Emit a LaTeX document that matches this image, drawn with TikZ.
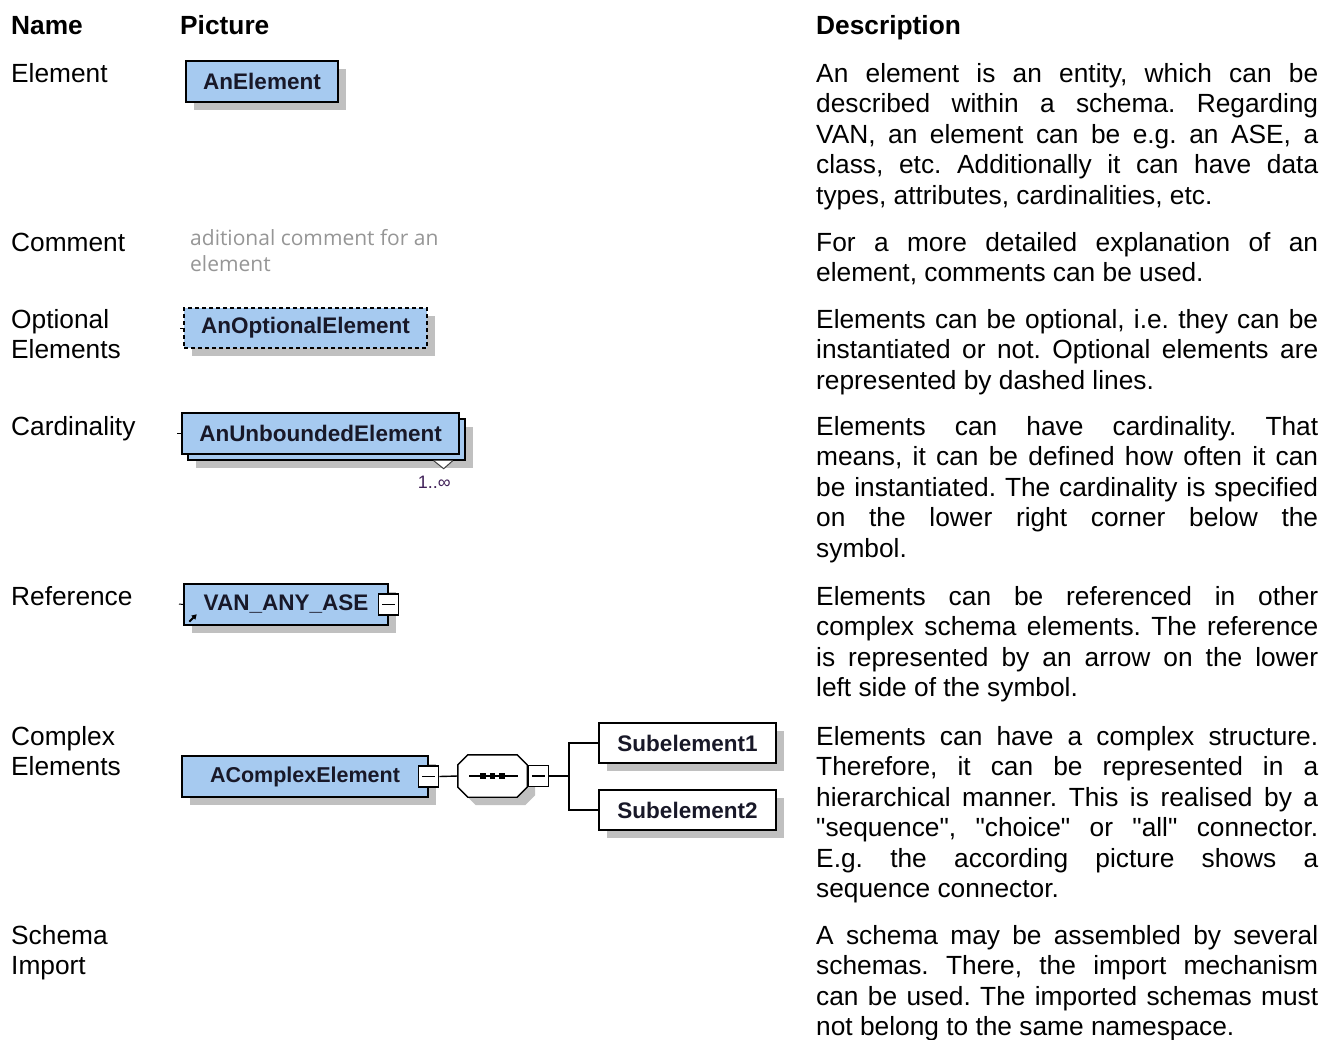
\documentclass[tikz,border=0pt]{standalone}
\usepackage{fontspec}
\setmainfont{Liberation Sans}
% plain family without TeX ligature mapping, so " stays a straight quote
\newfontfamily\arial{Liberation Sans}
\newfontfamily\cmtfont{Open Sans}
\usetikzlibrary{shadows,arrows.meta}

\definecolor{elemblue}{RGB}{166,202,240}
\definecolor{shadowgray}{RGB}{192,192,192}
\definecolor{elemtext}{RGB}{24,24,40}
\definecolor{cmtgray}{RGB}{150,150,150}
\definecolor{cardtext}{RGB}{64,32,88}

% one justified line of the description column, and a paragraph's last line
\newcommand\justl[1]{\hbox to 502pt{#1}}
\newcommand\lastl[1]{\hbox{#1}}
% a block of lines whose baseline is that of its first line
\newcommand\lines[1]{\vtop{\frenchspacing #1}}

\tikzset{
  elembase/.style={draw=black, line width=1.4pt, fill=elemblue, inner sep=0pt,
    text=elemtext, font=\arial\fontsize{22.5}{27}\selectfont\bfseries},
  elembox/.style={elembase,
    drop shadow={shadow xshift=8pt, shadow yshift=-8pt, fill=shadowgray, opacity=1}},
  subbox/.style={elembox, fill=white},
  minusbox/.style={draw=black, line width=1.2pt, fill=white, inner sep=0pt,
    minimum width=20pt, minimum height=21pt},
  wire/.style={line width=1.4pt},
  stub/.style={line width=1pt},
  txt/.style={inner sep=0pt, anchor=base west, font=\arial\fontsize{26.3}{30.5}\selectfont},
  head/.style={txt, font=\arial\fontsize{26.3}{30.5}\selectfont\bfseries},
}

\begin{document}
\begin{tikzpicture}[x=1pt, y=-1pt]
\path[use as bounding box, fill=white] (0,0) rectangle (1324,1039);

% column heads
\node[head] (hname) at (11,34) {Name};
\node[head] (hpic) at (180,34) {Picture};
\node[head] (hdesc) at (816,34) {Description};

% ---------- Element
\node[txt] (nel) at (11,82) {Element};
\node[elembox, minimum width=152pt, minimum height=41pt] (el) at (262,81.5) {AnElement};
\node[txt] (del) at (816,82) {\lines{%
  \justl{An element is an entity, which can be}
  \justl{described within a schema. Regarding}
  \justl{VAN, an element can be e.g. an ASE, a}
  \justl{class, etc. Additionally it can have data}
  \lastl{types, attributes, cardinalities, etc.}}};

% ---------- Comment
\node[txt] (ncm) at (11,251) {Comment};
\node[txt, font=\cmtfont\fontsize{21}{26.5}\selectfont, text=cmtgray] (cmt) at (190,245)
  {\lines{\lastl{aditional comment for an}\lastl{element}}};
\node[txt] (dcm) at (816,251) {\lines{%
  \justl{For a more detailed explanation of an}
  \lastl{element, comments can be used.}}};

% ---------- Optional elements
\node[txt] (nopt) at (11,328) {\lines{\lastl{Optional}\lastl{Elements}}};
\node[elembox, dash pattern=on 4pt off 3pt, minimum width=243pt, minimum height=40pt]
  (opt) at (305.5,328) {AnOptionalElement};
\coordinate (optin) at (180,328);
\draw[stub] (optin) -- (opt.west);
\node[txt] (dopt) at (816,328) {\lines{%
  \justl{Elements can be optional, i.e. they can be}
  \justl{instantiated or not. Optional elements are}
  \lastl{represented by dashed lines.}}};

% ---------- Cardinality
\node[txt] (ncard) at (11,435) {Cardinality};
\node[elembox, minimum width=277pt, minimum height=41pt] (cardb) at (326.5,439.5) {};
\node[elembase, minimum width=277pt, minimum height=41pt] (card) at (320.5,433.5) {AnUnboundedElement};
\coordinate (cardin) at (177,433.5);
\draw[stub] (cardin) -- (card.west);
\filldraw[fill=white, draw=black!75, line width=1pt]
  ([xshift=-32pt]cardb.south east) -- ([shift={(-22pt,-8pt)}]cardb.south east)
  -- ([xshift=-13pt]cardb.south east);
\node[txt, anchor=base east, text=cardtext, font=\arial\fontsize{18}{20}\selectfont]
  (cardlbl) at (451,488) {1..∞};
\node[txt] (dcard) at (816,435) {\lines{%
  \justl{Elements can have cardinality. That}
  \justl{means, it can be defined how often it can}
  \justl{be instantiated. The cardinality is specified}
  \justl{on the lower right corner below the}
  \lastl{symbol.}}};

% ---------- Reference
\node[txt] (nref) at (11,605) {Reference};
\node[elembox, minimum width=204pt, minimum height=41pt] (ref) at (286,604.5) {VAN\_ANY\_ASE};
\node[minusbox] (refx) at (ref.east) {};
\draw[line width=1.2pt] ([xshift=-6.5pt]refx.center) -- ([xshift=6.5pt]refx.center);
\coordinate (refin) at (179,604);
\draw[stub] (refin) -- (ref.west);
\draw[line width=1.8pt, -{Triangle[length=5pt,width=5.5pt]}]
  ([shift={(6pt,4pt)}]ref.south west) -- ([shift={(13.5pt,11.5pt)}]ref.south west);
\node[txt] (dref) at (816,605) {\lines{%
  \justl{Elements can be referenced in other}
  \justl{complex schema elements. The reference}
  \justl{is represented by an arrow on the lower}
  \lastl{left side of the symbol.}}};

% ---------- Complex elements
\node[txt] (ncx) at (11,745) {\lines{\lastl{Complex}\lastl{Elements}}};
\node[elembox, font=\arial\fontsize{21.5}{26}\selectfont\bfseries, minimum width=246pt, minimum height=41pt]
  (cplx) at (305,776.5) {AComplexElement};
\node[minusbox] (cplxm) at (cplx.east) {};
\draw[line width=1.2pt] ([xshift=-6.5pt]cplxm.center) -- ([xshift=6.5pt]cplxm.center);

% sequence connector: an octagon with a dotted bar
\node[inner sep=0pt, minimum width=69pt, minimum height=42pt] (seq) at (492.5,776) {};
\filldraw[fill=white, line width=1.4pt,
  drop shadow={shadow xshift=8pt, shadow yshift=-8pt, fill=shadowgray, opacity=1}]
  ([xshift=10pt]seq.north west) -- ([xshift=-10pt]seq.north east)
  -- ([yshift=-10pt]seq.north east) -- ([yshift=10pt]seq.south east)
  -- ([xshift=-10pt]seq.south east) -- ([xshift=10pt]seq.south west)
  -- ([yshift=10pt]seq.south west) -- ([yshift=-10pt]seq.north west) -- cycle;
\draw[line width=1.2pt] ([xshift=-23.5pt]seq.center) -- ([xshift=25.5pt]seq.center);
\foreach \dx in {-9.5,0,9.5}
  \fill ([xshift=\dx pt]seq.center) +(-2.8,-2.8) rectangle +(2.8,2.8);
\node[minusbox, anchor=west] (seqm) at ([xshift=0.5pt]seq.east) {};
\draw[line width=1.2pt] ([xshift=-6.5pt]seqm.center) -- ([xshift=6.5pt]seqm.center);

\coordinate (fork) at (569,776);
\node[subbox, minimum width=177pt, minimum height=40pt] (sub1) at (687.5,743) {Subelement1};
\node[subbox, minimum width=177pt, minimum height=40pt] (sub2) at (687.5,810) {Subelement2};

\draw[wire] (cplxm.east) -- (seq.west);
\draw[wire] (seqm.east) -- (fork);
\draw[wire] (fork) |- (sub1.west);
\draw[wire] (fork) |- (sub2.west);

\node[txt] (dcx) at (816,745) {\lines{%
  \justl{Elements can have a complex structure.}
  \justl{Therefore, it can be represented in a}
  \justl{hierarchical manner. This is realised by a}
  \justl{"sequence", "choice" or "all" connector.}
  \justl{E.g. the according picture shows a}
  \lastl{sequence connector.}}};

% ---------- Schema import
\node[txt] (nimp) at (11,944) {\lines{\lastl{Schema}\lastl{Import}}};
\node[txt] (dimp) at (816,944) {\lines{%
  \justl{A schema may be assembled by several}
  \justl{schemas. There, the import mechanism}
  \justl{can be used. The imported schemas must}
  \lastl{not belong to the same namespace.}}};
\end{tikzpicture}
\end{document}
